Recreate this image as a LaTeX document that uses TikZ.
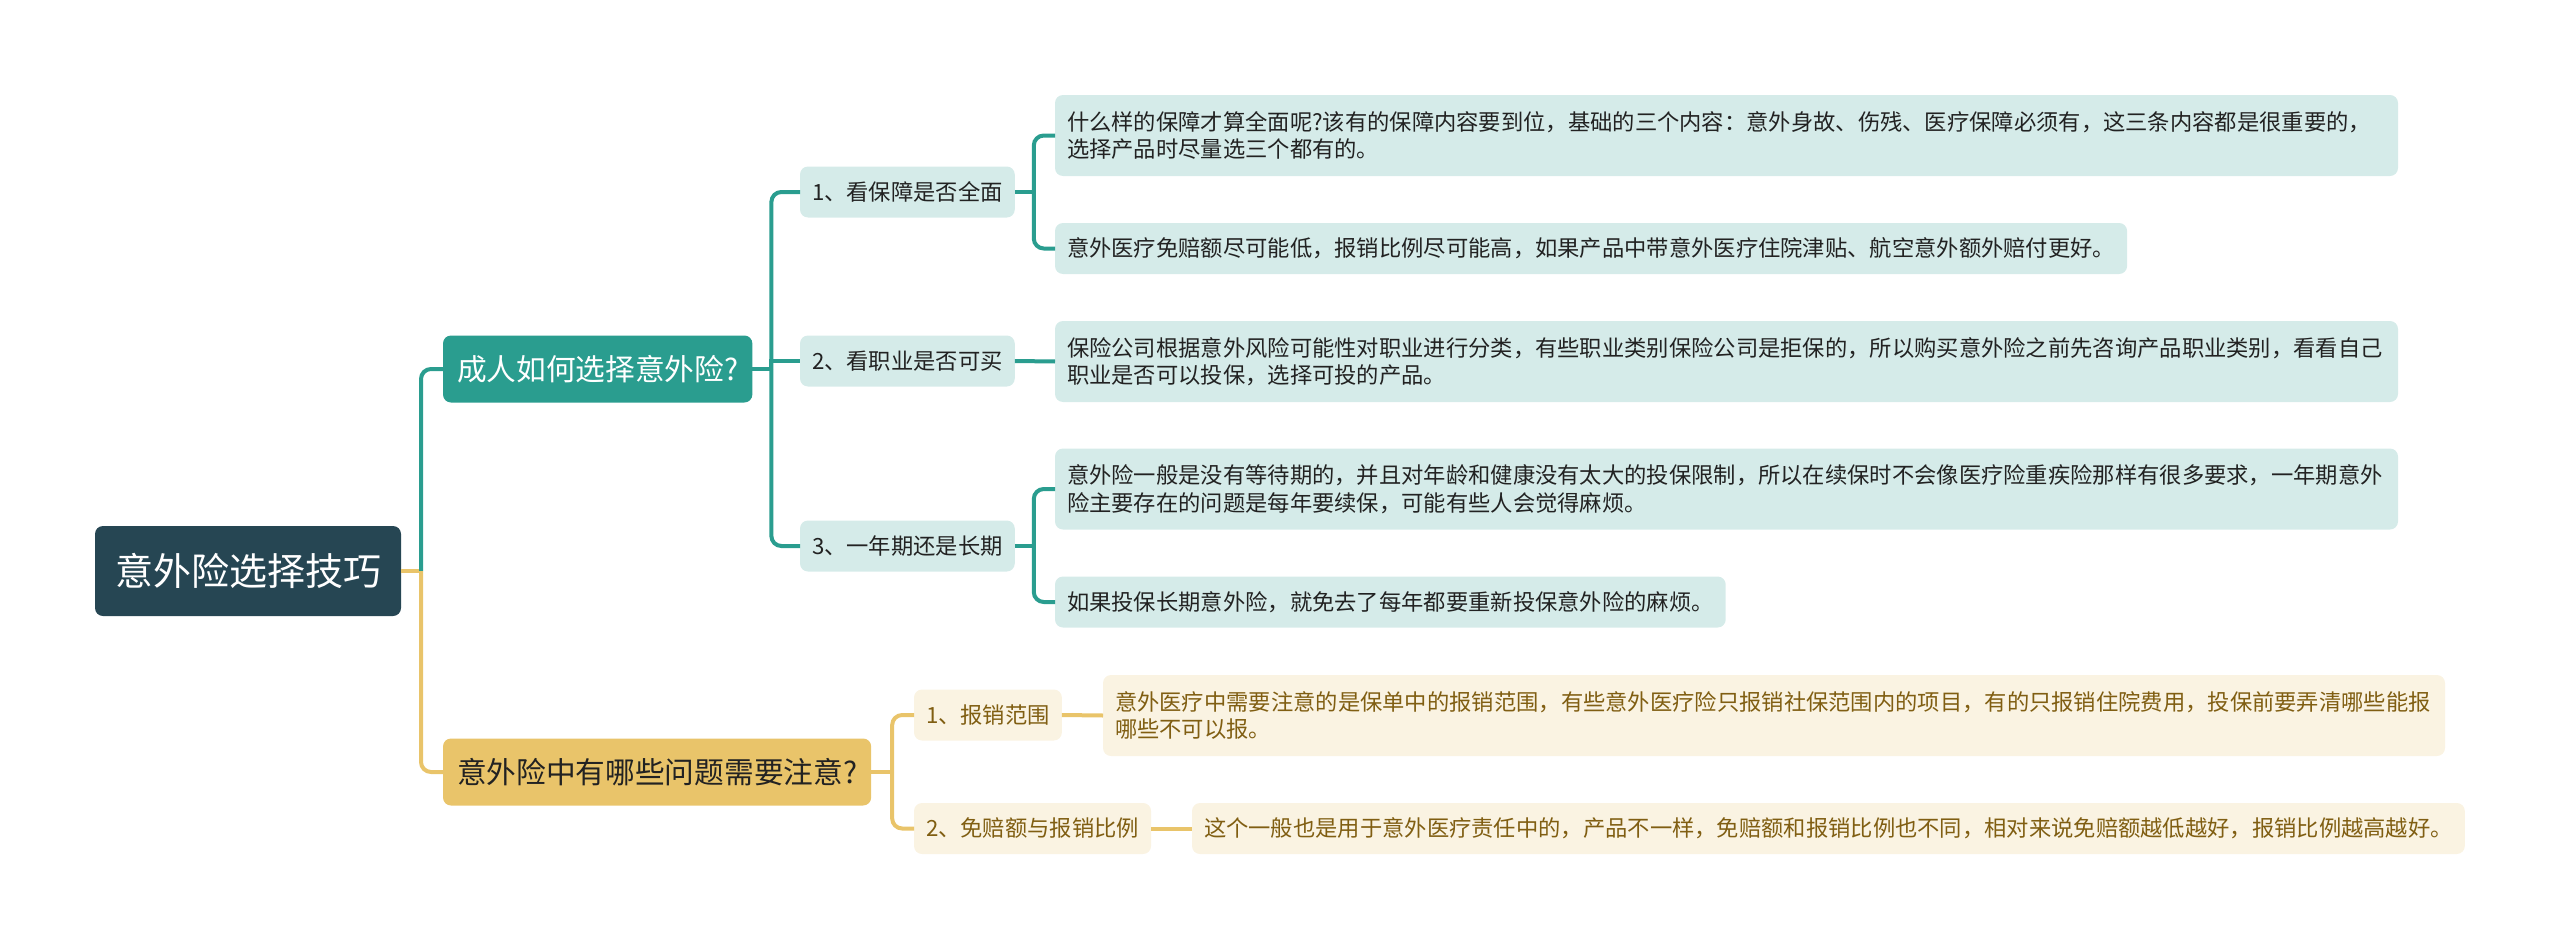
\documentclass[tikz,border=0pt]{standalone}
\usepackage{fontspec}
\usetikzlibrary{calc}
\newfontfamily\cjk{Noto Sans CJK SC}
\definecolor{rootSlate}{RGB}{38,70,83}
\definecolor{mapTeal}{RGB}{42,157,143}
\definecolor{mapGold}{RGB}{233,196,106}
\definecolor{paleTeal}{RGB}{213,235,233}
\definecolor{paleGold}{RGB}{250,243,226}
\definecolor{inkDark}{RGB}{34,34,34}
\definecolor{inkBrown}{RGB}{128,94,18}

\begin{document}
\begin{tikzpicture}[x=1pt,y=-1pt,
  box/.style={rounded corners=8pt,anchor=west,outer sep=0pt,inner ysep=0pt},
  rootBox/.style={box,fill=rootSlate,text=white,inner xsep=20pt,minimum height=90pt,font=\cjk\fontsize{38}{44}\selectfont},
  tealBranch/.style={box,fill=mapTeal,text=white,inner xsep=14pt,minimum height=67pt,font=\cjk\fontsize{29.7}{34}\selectfont},
  goldBranch/.style={box,fill=mapGold,text=inkDark,inner xsep=14pt,minimum height=67pt,font=\cjk\fontsize{29.7}{34}\selectfont},
  item/.style={box,inner xsep=12pt,minimum height=51pt,align=left,font=\cjk\fontsize{22.3}{27.5}\selectfont},
  tealItem/.style={item,fill=paleTeal,text=inkDark},
  goldItem/.style={item,fill=paleGold,text=inkBrown},
  wideItem/.style={text width=1319pt,minimum height=81pt},
  tealLink/.style={draw=mapTeal,line width=4pt},
  goldLink/.style={draw=mapGold,line width=4pt},
  elbow/.style={rounded corners=10pt}]
  \useasboundingbox (0,0) rectangle (2560,950);

  % root and the two main branches
  \node[rootBox] (root) at (95,571) {意外险选择技巧};
  \node[tealBranch] (adult) at (443,369) {成人如何选择意外险?};
  \node[goldBranch] (notice) at (443,772) {意外险中有哪些问题需要注意?};

  % teal branch
  \node[tealItem] (cover) at (800,192) {1、看保障是否全面};
  \node[tealItem] (job) at (800,361) {2、看职业是否可买};
  \node[tealItem] (term) at (800,546) {3、一年期还是长期};
  \node[tealItem,wideItem] (coverA) at (1055,135.5) {什么样的保障才算全面呢?该有的保障内容要到位，基础的三个内容：意外身故、伤残、医疗保障必须有，这三条内容都是很重要的，\\选择产品时尽量选三个都有的。};
  \node[tealItem] (coverB) at (1055,248.5) {意外医疗免赔额尽可能低，报销比例尽可能高，如果产品中带意外医疗住院津贴、航空意外额外赔付更好。};
  \node[tealItem,wideItem] (jobA) at (1055,361.5) {保险公司根据意外风险可能性对职业进行分类，有些职业类别保险公司是拒保的，所以购买意外险之前先咨询产品职业类别，看看自己\\职业是否可以投保，选择可投的产品。};
  \node[tealItem,wideItem] (termA) at (1055,489) {意外险一般是没有等待期的，并且对年龄和健康没有太大的投保限制，所以在续保时不会像医疗险重疾险那样有很多要求，一年期意外\\险主要存在的问题是每年要续保，可能有些人会觉得麻烦。};
  \node[tealItem] (termB) at (1055,602) {如果投保长期意外险，就免去了每年都要重新投保意外险的麻烦。};

  % gold branch
  \node[goldItem] (scope) at (914,715) {1、报销范围};
  \node[goldItem] (ratio) at (914,828.5) {2、免赔额与报销比例};
  \node[goldItem,text width=1318pt,minimum height=81pt] (scopeA) at (1103,715.5) {意外医疗中需要注意的是保单中的报销范围，有些意外医疗险只报销社保范围内的项目，有的只报销住院费用，投保前要弄清哪些能报\\哪些不可以报。};
  \node[goldItem] (ratioA) at (1192,828.5) {这个一般也是用于意外医疗责任中的，产品不一样，免赔额和报销比例也不同，相对来说免赔额越低越好，报销比例越高越好。};

  % connectors
  \draw[goldLink] (root.east) -- ++(20,0) coordinate (rootBus);
  \draw[tealLink,elbow] (rootBus) |- (adult.west);
  \draw[goldLink,elbow] (rootBus) |- (notice.west);

  \draw[tealLink] (adult.east) -- ++(19,0) coordinate (adultBus);
  \foreach \kid in {cover,term}
    \draw[tealLink,elbow] (adultBus) |- (\kid.west);
  \draw[tealLink] (adultBus) |- (job.west);

  \draw[tealLink] (cover.east) -- ++(19,0) coordinate (coverBus);
  \foreach \kid in {coverA,coverB}
    \draw[tealLink,elbow] (coverBus) |- (\kid.west);
  \draw[tealLink] (job.east) -- (jobA.west);
  \draw[tealLink] (term.east) -- ++(19,0) coordinate (termBus);
  \foreach \kid in {termA,termB}
    \draw[tealLink,elbow] (termBus) |- (\kid.west);

  \draw[goldLink] (notice.east) -- ++(21,0) coordinate (noticeBus);
  \foreach \kid in {scope,ratio}
    \draw[goldLink,elbow] (noticeBus) |- (\kid.west);
  \draw[goldLink] (scope.east) -- (scopeA.west);
  \draw[goldLink] (ratio.east) -- (ratioA.west);
\end{tikzpicture}
\end{document}
